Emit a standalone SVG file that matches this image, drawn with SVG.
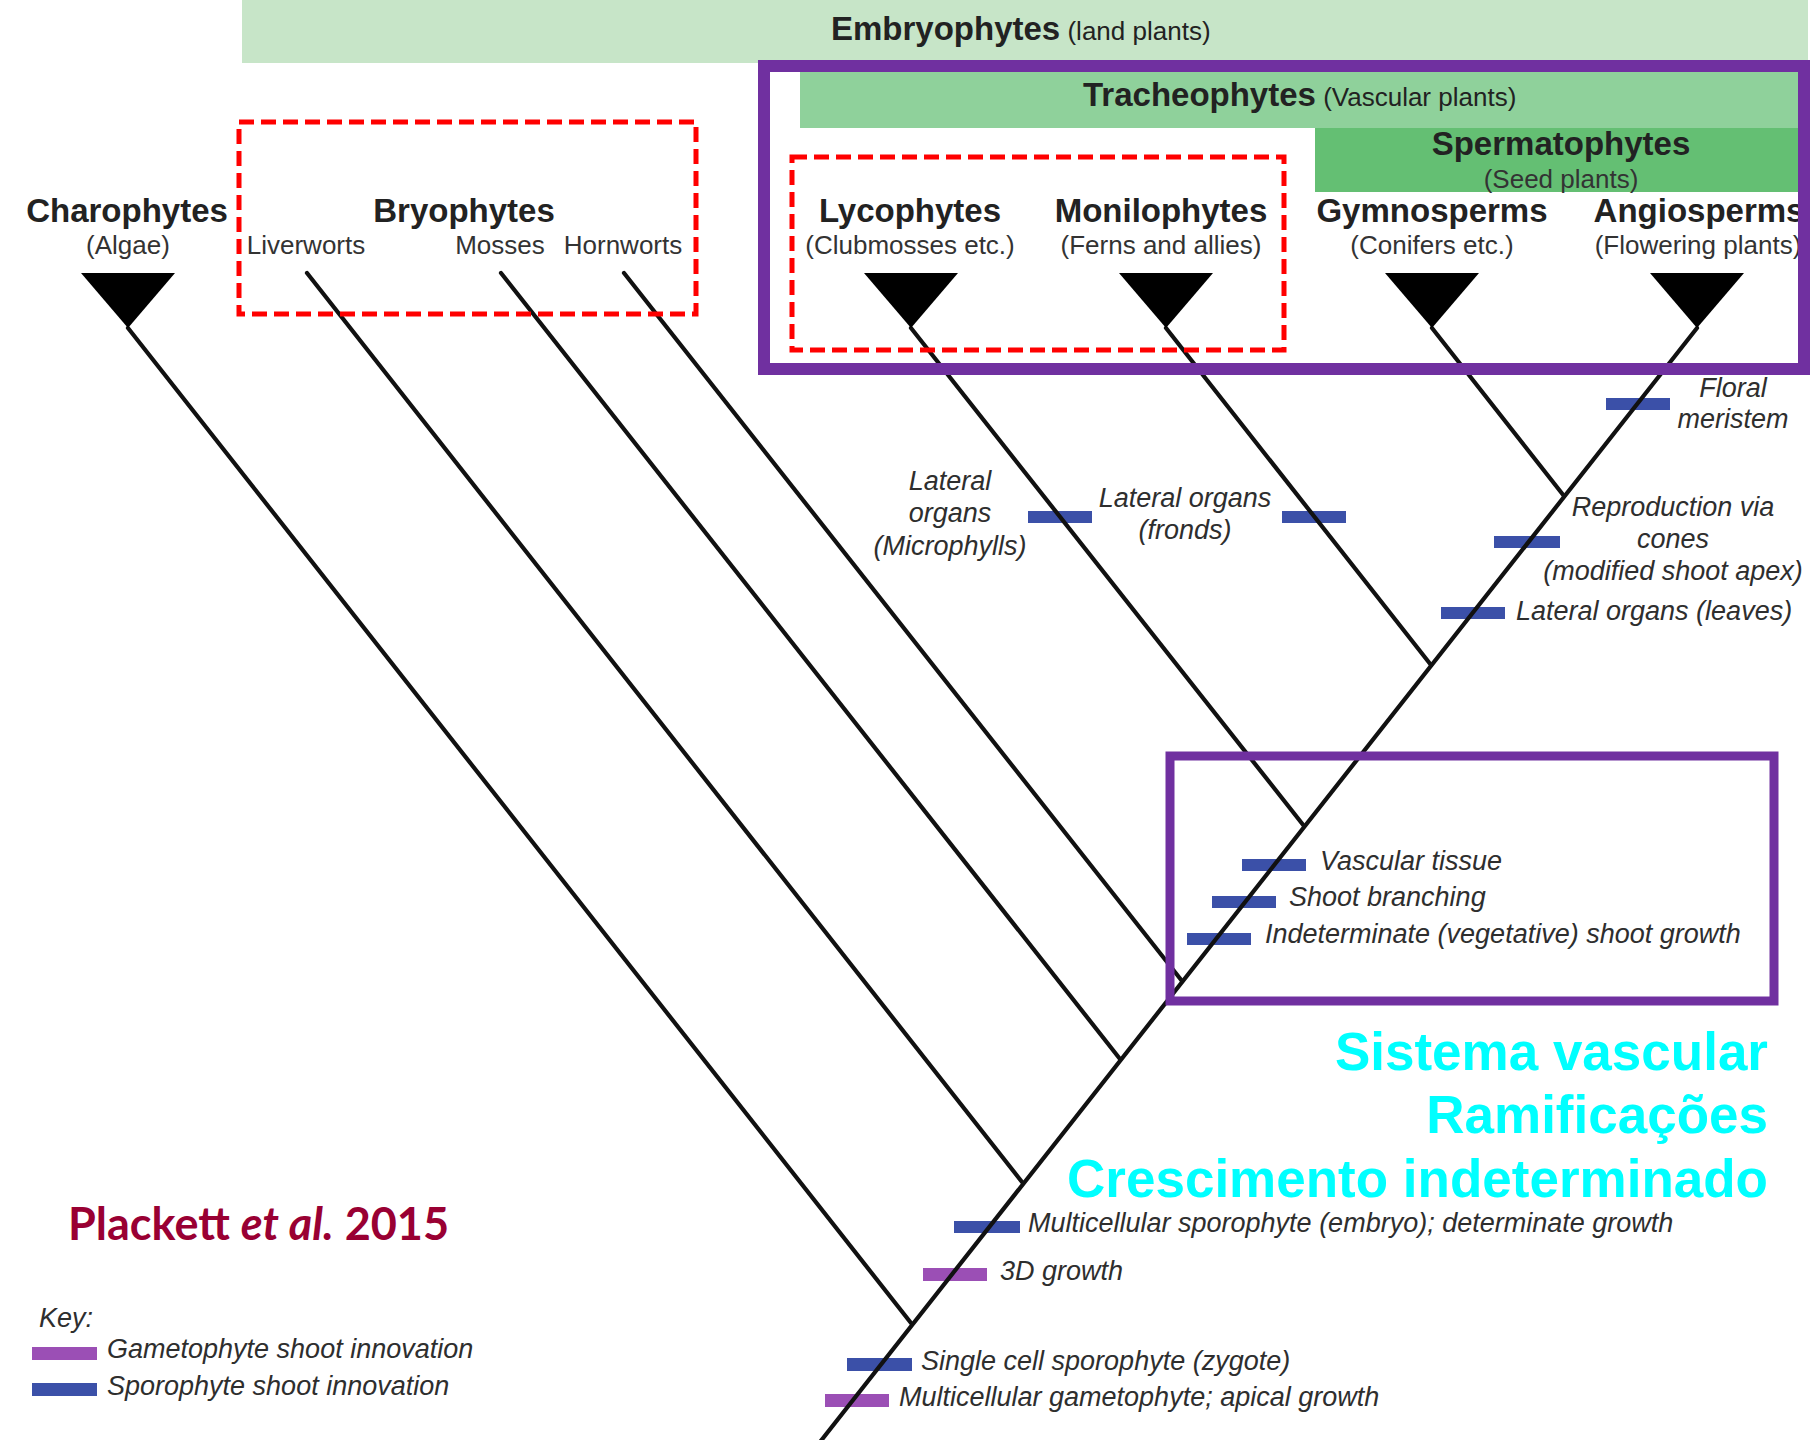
<svg xmlns="http://www.w3.org/2000/svg" width="1810" height="1440" viewBox="0 0 1810 1440">
  <style>
    .bold { font-family: "Liberation Sans", Arial, sans-serif; font-weight: bold; font-size: 33px; fill: #222; }
    .sub { font-family: "Liberation Sans", Arial, sans-serif; font-size: 26px; fill: #333; }
    .it { font-family: "Liberation Sans", Arial, sans-serif; font-style: italic; font-size: 27px; fill: #2e2e2e; }
    .mid { text-anchor: middle; }
    .branch { stroke: #111; stroke-width: 4.2; fill: none; stroke-linecap: round; }
    .tip { fill: #000; }
    .spo { fill: #3b50a8; }
    .gam { fill: #9b4fb5; }
    .dash { fill: none; stroke: #ff0000; stroke-width: 5; stroke-dasharray: 15 7; }
    .frame { fill: none; stroke: #7030a0; }
    .note { font-family: "Liberation Sans", Arial, sans-serif; font-weight: bold; font-size: 53px; fill: #00ffff; text-anchor: end; }
  </style>

  <rect x="0" y="0" width="1810" height="1440" fill="#ffffff"/>

  <!-- clade bands -->
  <g id="embryophytes">
    <rect x="242" y="0" width="1566" height="63" fill="#c7e5c8"/>
    <text x="831" y="40" class="bold">Embryophytes<tspan font-weight="normal" font-size="26px"> (land plants)</tspan></text>
  </g>
  <g id="tracheophytes">
    <rect x="800" y="72" width="1006" height="56" fill="#8fd19b"/>
    <text x="1083" y="106" class="bold">Tracheophytes<tspan font-weight="normal" font-size="26px"> (Vascular plants)</tspan></text>
  </g>
  <g id="spermatophytes">
    <rect x="1315" y="128" width="491" height="64" fill="#64bf73"/>
    <text x="1561" y="155" class="bold mid">Spermatophytes</text>
    <text x="1561" y="188" class="sub mid">(Seed plants)</text>
  </g>

  <!-- innovation markers (drawn beneath the branches) -->
  <g id="markers">
    <rect class="spo" x="1606" y="398" width="64" height="12"/>
    <rect class="spo" x="1028" y="511" width="64" height="12"/>
    <rect class="spo" x="1282" y="511" width="64" height="12"/>
    <rect class="spo" x="1494" y="536" width="66" height="12"/>
    <rect class="spo" x="1441" y="607" width="64" height="12"/>
    <rect class="spo" x="1242" y="859" width="64" height="12"/>
    <rect class="spo" x="1212" y="896" width="64" height="12"/>
    <rect class="spo" x="1187" y="933" width="64" height="12"/>
    <rect class="spo" x="954" y="1221" width="66" height="12"/>
    <rect class="gam" x="923" y="1268" width="64" height="13"/>
    <rect class="spo" x="847" y="1358" width="65" height="13"/>
    <rect class="gam" x="825" y="1394" width="64" height="13"/>
  </g>

  <!-- tree branches -->
  <g id="connectors">
    <line class="branch" x1="820" y1="1442" x2="1697" y2="328"/>
    <line class="branch" x1="128" y1="328" x2="911" y2="1323"/>
    <line class="branch" x1="307" y1="273" x2="1022" y2="1182"/>
    <line class="branch" x1="501" y1="273" x2="1120" y2="1059"/>
    <line class="branch" x1="624" y1="273" x2="1182" y2="981"/>
    <line class="branch" x1="911" y1="328" x2="1304" y2="826"/>
    <line class="branch" x1="1166" y1="328" x2="1431" y2="665"/>
    <line class="branch" x1="1432" y1="328" x2="1564" y2="496"/>
  </g>

  <!-- taxa -->
  <g id="charophytes">
    <polygon class="tip" points="81,273 175,273 128,328"/>
    <text x="127" y="222" class="bold mid">Charophytes</text>
    <text x="128" y="254" class="sub mid">(Algae)</text>
  </g>
  <g id="bryophytes">
    <text x="464" y="222" class="bold mid">Bryophytes</text>
  </g>
  <g id="liverworts">
    <text x="306" y="254" class="sub mid">Liverworts</text>
  </g>
  <g id="mosses">
    <text x="500" y="254" class="sub mid">Mosses</text>
  </g>
  <g id="hornworts">
    <text x="623" y="254" class="sub mid">Hornworts</text>
  </g>
  <g id="lycophytes">
    <polygon class="tip" points="864,273 958,273 911,328"/>
    <text x="910" y="222" class="bold mid">Lycophytes</text>
    <text x="910" y="254" class="sub mid">(Clubmosses etc.)</text>
  </g>
  <g id="monilophytes">
    <polygon class="tip" points="1119,273 1213,273 1166,328"/>
    <text x="1161" y="222" class="bold mid">Monilophytes</text>
    <text x="1161" y="254" class="sub mid">(Ferns and allies)</text>
  </g>
  <g id="gymnosperms">
    <polygon class="tip" points="1385,273 1479,273 1432,328"/>
    <text x="1432" y="222" class="bold mid">Gymnosperms</text>
    <text x="1432" y="254" class="sub mid">(Conifers etc.)</text>
  </g>
  <g id="angiosperms">
    <polygon class="tip" points="1650,273 1744,273 1697,328"/>
    <text x="1699" y="222" class="bold mid">Angiosperms</text>
    <text x="1698" y="254" class="sub mid">(Flowering plants)</text>
  </g>

  <!-- innovation labels -->
  <g id="innovation-labels">
    <text x="1733" y="397" class="it mid">Floral</text>
    <text x="1733" y="428" class="it mid">meristem</text>
    <text x="950" y="490" class="it mid">Lateral</text>
    <text x="950" y="522" class="it mid">organs</text>
    <text x="950" y="555" class="it mid">(Microphylls)</text>
    <text x="1185" y="507" class="it mid">Lateral organs</text>
    <text x="1185" y="539" class="it mid">(fronds)</text>
    <text x="1673" y="516" class="it mid">Reproduction via</text>
    <text x="1673" y="548" class="it mid">cones</text>
    <text x="1673" y="580" class="it mid">(modified shoot apex)</text>
    <text x="1516" y="620" class="it">Lateral organs (leaves)</text>
    <text x="1320" y="870" class="it">Vascular tissue</text>
    <text x="1289" y="906" class="it">Shoot branching</text>
    <text x="1265" y="943" class="it">Indeterminate (vegetative) shoot growth</text>
    <text x="1028" y="1232" class="it">Multicellular sporophyte (embryo); determinate growth</text>
    <text x="1000" y="1280" class="it">3D growth</text>
    <text x="921" y="1370" class="it">Single cell sporophyte (zygote)</text>
    <text x="899" y="1406" class="it">Multicellular gametophyte; apical growth</text>
  </g>

  <!-- highlight frames -->
  <g id="bryophyte-frame">
    <rect class="dash" x="239" y="122" width="457" height="192"/>
  </g>
  <g id="seedless-vascular-frame">
    <rect class="dash" x="792" y="157" width="492" height="193"/>
  </g>
  <g id="tracheophyte-frame">
    <rect class="frame" x="764" y="66" width="1040" height="303" stroke-width="12"/>
  </g>
  <g id="vascular-innovations-frame">
    <rect class="frame" x="1170" y="756" width="604" height="245" stroke-width="9"/>
  </g>

  <!-- annotations -->
  <g id="vascular-notes">
    <text x="1768" y="1070" class="note">Sistema vascular</text>
    <text x="1768" y="1133" class="note">Ramificações</text>
    <text x="1768" y="1197" class="note">Crescimento indeterminado</text>
  </g>
  <g id="citation">
    <text x="68" y="1240" font-family="Lato, 'Liberation Sans', sans-serif" font-weight="bold" font-size="45" fill="#990033">Plackett <tspan font-style="italic">et al.</tspan> 2015</text>
  </g>

  <!-- key -->
  <g id="key">
    <text x="39" y="1327" class="it" font-size="24px">Key:</text>
    <rect class="gam" x="32" y="1347" width="65" height="13"/>
    <text x="107" y="1358" class="it">Gametophyte shoot innovation</text>
    <rect class="spo" x="32" y="1383" width="65" height="13"/>
    <text x="107" y="1395" class="it">Sporophyte shoot innovation</text>
  </g>
</svg>
